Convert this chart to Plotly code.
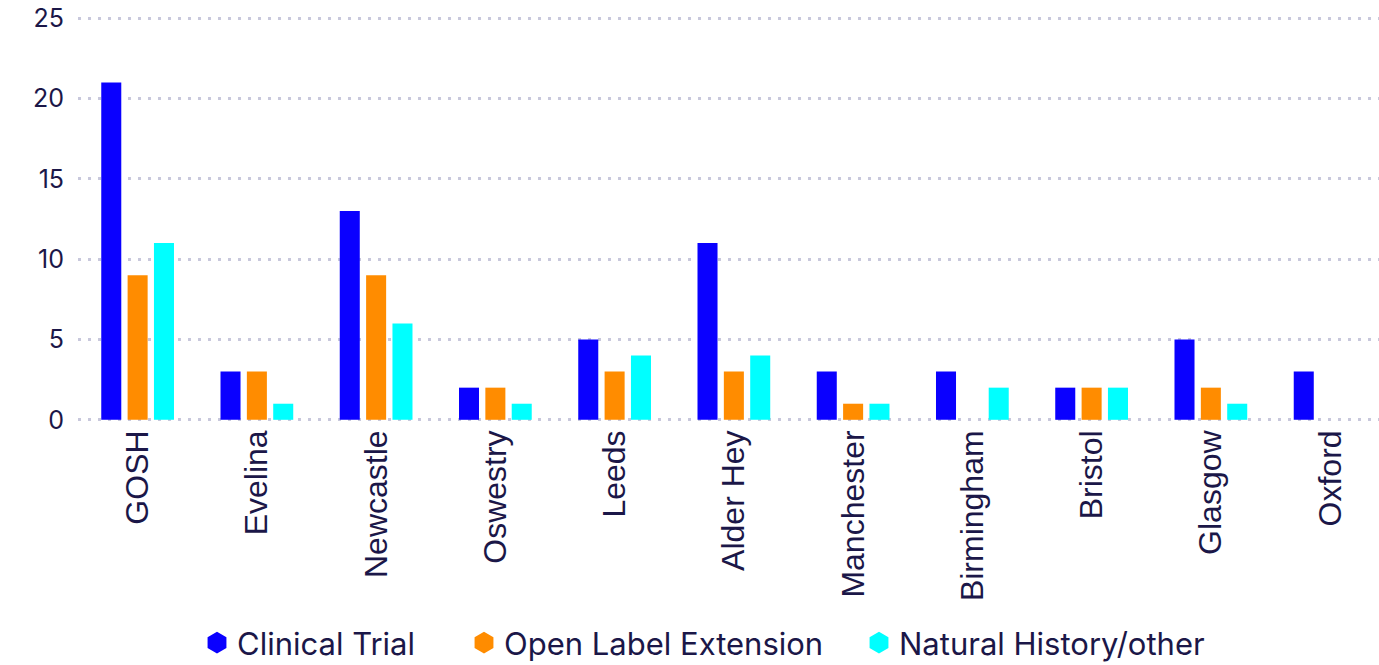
import plotly.graph_objects as go

sites = ["GOSH", "Evelina", "Newcastle", "Oswestry", "Leeds", "Alder Hey",
         "Manchester", "Birmingham", "Bristol", "Glasgow", "Oxford"]
clinical_trial = [21, 3, 13, 2, 5, 11, 3, 3, 2, 5, 3]
open_label = [9, 3, 9, 2, 3, 3, 1, 0, 2, 2, 0]
natural_history = [11, 1, 6, 1, 4, 4, 1, 2, 2, 1, 0]
series_names = ["Clinical Trial", "Open Label Extension", "Natural History/other"]
colors = ["#0a00ff", "#ff8c00", "#00ffff"]
y_ticks = [0, 5, 10, 15, 20, 25]

TEXT = "#1b1748"
W, H = 1379, 665
fig = go.Figure()
for name, vals, c in zip(series_names, [clinical_trial, open_label, natural_history], colors):
    fig.add_trace(go.Bar(x=sites, y=vals, name=name, marker=dict(color=c, line=dict(width=0)),
                         showlegend=False))
legend_ids = ["legend", "legend2", "legend3"]
legend_x = [197, 464, 859]
for name, c, lid in zip(series_names, colors, legend_ids):
    fig.add_trace(go.Scatter(x=[None], y=[None], mode="markers", name=name, legend=lid,
                             marker=dict(symbol="hexagon", size=26, color=c,
                                         line=dict(color=c, width=5))))

legend_common = dict(orientation="h", xref="container", yref="container", xanchor="left",
                     y=1 - 643 / H, yanchor="middle", font=dict(size=31, color=TEXT),
                     itemwidth=30, bgcolor="rgba(0,0,0,0)")
fig.update_layout(
    width=W, height=H,
    plot_bgcolor="white", paper_bgcolor="white",
    barmode="group", bargap=0.337, bargroupgap=0.24,
    margin=dict(l=78, r=0, t=15, b=242, autoexpand=False),
    font=dict(family="Inter, Roboto, sans-serif", color=TEXT, size=20),
    legend=dict(x=legend_x[0] / W, **legend_common),
    legend2=dict(x=legend_x[1] / W, **legend_common),
    legend3=dict(x=legend_x[2] / W, **legend_common),
    xaxis=dict(range=[-0.5, 10.41], tickangle=-90,
               tickfont=dict(size=32, color=TEXT, family="Liberation Sans, Arial"),
               showgrid=False, showline=False, ticks="", automargin=False),
    yaxis=dict(range=[-0.2, 25.2], tickvals=y_ticks, showgrid=True, gridcolor="#c8c8dc",
               griddash="3px,7px", gridwidth=3, zeroline=False, showline=False,
               tickfont=dict(size=25, color=TEXT), ticklabelstandoff=13, automargin=False),
)
fig.write_html("out.html", config={"displayModeBar": False})
with open("out.html", "r", encoding="utf-8") as f:
    html = f.read()
html = html.replace("<head>", "<head><style>html,body{margin:0;padding:0;overflow:hidden}</style>", 1)
with open("out.html", "w", encoding="utf-8") as f:
    f.write(html)
